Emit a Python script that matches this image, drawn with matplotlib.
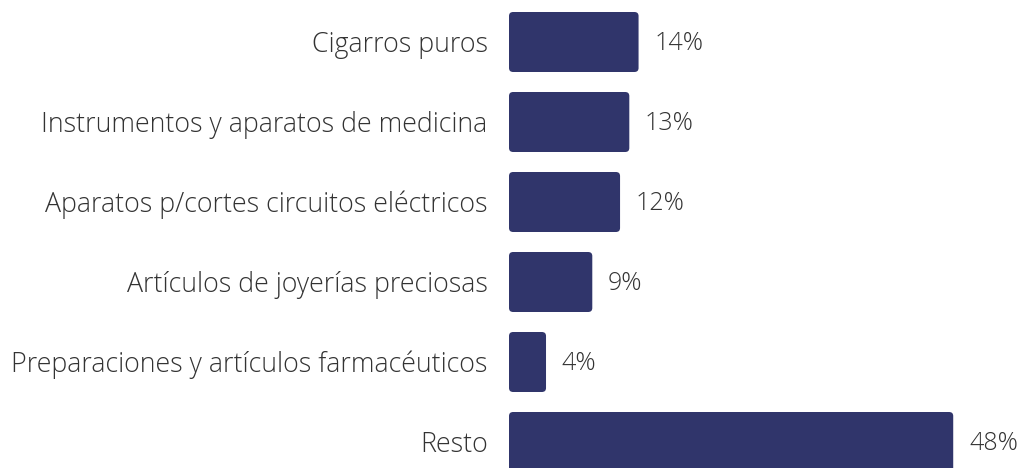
import matplotlib.pyplot as plt
from matplotlib.patches import FancyBboxPatch

categorias = [
    "Cigarros puros",
    "Instrumentos y aparatos de medicina",
    "Aparatos p/cortes circuitos eléctricos",
    "Artículos de joyerías preciosas",
    "Preparaciones y artículos farmacéuticos",
    "Resto",
]
valores = [14, 13, 12, 9, 4, 48]

color_barra = "#30356b"
color_texto = "#333333"

plt.rcParams['font.family'] = ['Open Sans', 'DejaVu Sans']

fig = plt.figure(figsize=(10.18, 4.68), dpi=100)
# eje: valor 0 en x=509 px, ~9.25 px por unidad
ax = fig.add_axes([509 / 1018, 0, 509 / 1018, 1])
ax.set_xlim(0, 55)
ax.set_ylim(5.325, -0.525)

alto = 0.75
radio_x = 0.45
aspecto = (4 / 80) / radio_x

for i, (cat, v) in enumerate(zip(categorias, valores)):
    barra = FancyBboxPatch((0, i - alto / 2), v, alto,
                           boxstyle=f"round,pad=0,rounding_size={radio_x}",
                           mutation_aspect=aspecto,
                           facecolor=color_barra, edgecolor="none",
                           clip_on=False)
    ax.add_patch(barra)
    ax.text(v + 1.7, i + 0.02, f"{v}%", va="center", ha="left",
            fontsize=18, color=color_texto, fontweight="light")
    ax.text(-2.3, i + 0.04, cat, va="center", ha="right",
            fontsize=19.3, color=color_texto, fontweight="light")

ax.axis("off")
fig.savefig("out.png", dpi=100)
